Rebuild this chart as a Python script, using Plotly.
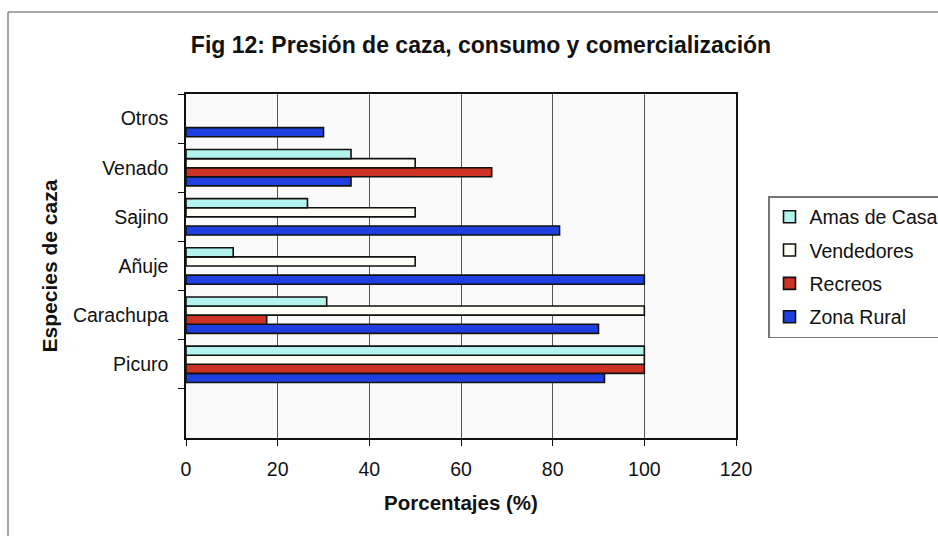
import plotly.graph_objects as go

# Hunting species (bottom to top on the chart)
especies = ["Picuro", "Carachupa", "Añuje", "Sajino", "Venado", "Otros"]

# Percentages per surveyed group (None = not reported)
zona_rural = [91.3, 90, 100, 81.5, 36, 30]
recreos = [100, 17.6, None, None, 66.7, None]
vendedores = [100, 100, 50, 50, 50, None]
amas_de_casa = [100, 30.7, 10.3, 26.5, 36, None]

x_ticks = [0, 20, 40, 60, 80, 100, 120]

W, H = 938, 536
ML, MR, MT, MB = 186, 202, 94, 98
PW, PH = W - ML - MR, H - MT - MB

series = [
    ("Zona Rural", zona_rural, "#1f3fe0"),
    ("Recreos", recreos, "#cc3324"),
    ("Vendedores", vendedores, "#fffff6"),
    ("Amas de Casa", amas_de_casa, "#b2f3ee"),
]

fig = go.Figure()
for i, (name, vals, color) in enumerate(series):
    fig.add_trace(go.Bar(
        name=name,
        y=especies,
        x=vals,
        orientation="h",
        marker=dict(color=color, line=dict(color="#111111", width=1.6)),
        legendgroup=name,
        legendrank=len(series) - i,
    ))

# chart frame (top and left edge)
fx0 = (8 - ML) / PW
fy0 = 1 + (MT - 12) / PH
fx1 = 1 + (MR + 2) / PW
fyb = -(MB + 2) / PH
frame = dict(type="line", xref="paper", yref="paper",
             line=dict(color="#8a8a8a", width=1.5))

fig.update_layout(
    width=W, height=H,
    margin=dict(l=ML, r=MR, t=MT, b=MB, autoexpand=False),
    paper_bgcolor="white",
    plot_bgcolor="#fafafb",
    barmode="group",
    bargap=0.26,
    bargroupgap=0,
    font=dict(family="Liberation Sans, Arial, sans-serif", size=19.5, color="#111111"),
    title=dict(
        text="<b>Fig 12: Presión de caza, consumo y comercialización</b>",
        x=481 / W, xanchor="center",
        y=1 - 45 / H, yanchor="middle",
        font=dict(size=23),
    ),
    legend=dict(
        x=1 + (768 - (W - MR)) / PW, xanchor="left",
        y=1 - (196 - MT) / PH, yanchor="top",
        bordercolor="#777777", borderwidth=1.5,
        bgcolor="white",
        font=dict(size=19.5),
        tracegroupgap=5,
        itemwidth=30,
    ),
    xaxis=dict(
        range=[0, 120],
        tickvals=x_ticks,
        ticks="outside", ticklen=6, tickcolor="#111111",
        ticklabelstandoff=7,
        showgrid=True, gridcolor="#555555", gridwidth=1,
        showline=True, linecolor="#111111", linewidth=1.5, mirror=True,
        zeroline=False,
        title=dict(text="<b>Porcentajes (%)</b>", font=dict(size=20.5), standoff=16),
        tickfont=dict(size=19.5),
    ),
    yaxis=dict(
        type="category",
        categoryorder="array", categoryarray=especies,
        range=[-1.5, 5.5],
        tickson="boundaries",
        ticks="outside", ticklen=6, tickcolor="#111111",
        ticklabelstandoff=12,
        showgrid=False,
        showline=True, linecolor="#111111", linewidth=1.5, mirror=True,
        title=dict(text="<b>Especies de caza</b>", font=dict(size=21), standoff=10),
        tickfont=dict(size=19.5),
    ),
    shapes=[
        dict(frame, x0=fx0, x1=fx1, y0=fy0, y1=fy0),
        dict(frame, x0=fx0, x1=fx0, y0=fy0, y1=fyb),
    ],
)

fig.write_html("out.html")
